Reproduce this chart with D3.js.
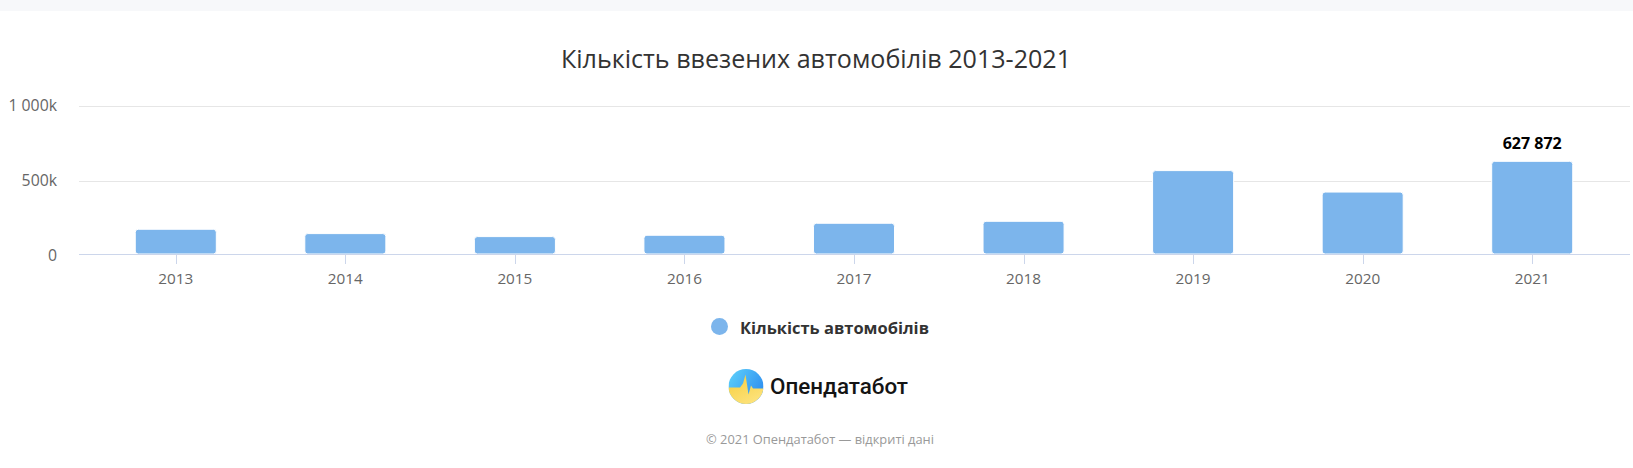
<!DOCTYPE html>
<html>
<head>
<meta charset="utf-8">
<script src="https://cdn.jsdelivr.net/npm/d3@7"></script>
<style>
  html, body { margin: 0; padding: 0; background: #fff; }
  svg { display: block; font-family: "Open Sans", "Noto Sans", sans-serif; }
</style>
</head>
<body>
<svg id="chart" width="1633" height="468"></svg>
<script>
// ---- data ----
const years = ["2013", "2014", "2015", "2016", "2017", "2018", "2019", "2020", "2021"];
const cars = [175000, 146000, 126000, 135000, 215000, 228000, 566000, 423000, 627872];
const yTicks = [0, 500000, 1000000];
const yTickLabels = ["0", "500k", "1 000k"];
const labelledYear = "2021";
const titleText = "Кількість ввезених автомобілів 2013-2021";
const seriesName = "Кількість автомобілів";
const logoText = "Опендатабот";
const footerText = "© 2021 Опендатабот — відкриті дані";

// ---- layout ----
const W = 1633, H = 468;
const svg = d3.select("#chart");
const barColor = "#7cb5ec";

function fitText(sel, target) {
  const node = sel.node();
  let fs = parseFloat(sel.attr("font-size"));
  for (let i = 0; i < 4; i++) {
    const w = node.getComputedTextLength();
    if (!w) break;
    fs = fs * target / w;
    sel.attr("font-size", fs.toFixed(2));
  }
}

// top band
svg.append("rect").attr("x", 0).attr("y", 0).attr("width", W).attr("height", 11).attr("fill", "#f7f8fa");

// title
const title = svg.append("text")
  .attr("x", 816).attr("y", 68)
  .attr("text-anchor", "middle")
  .attr("font-size", 24)
  .attr("fill", "#333333")
  .text(titleText);
fitText(title, 510);

// scales
const x = d3.scalePoint().domain(years).range([91, 1617]).padding(0.5);
const barW = x.step() * 0.478;
const y = d3.scaleLinear().domain([0, 1000000]).range([255.5, 105.5]);
const gridX0 = 79, gridX1 = 1630;

// gridlines
svg.append("g").selectAll("line")
  .data(yTicks.filter(t => t > 0))
  .join("line")
  .attr("x1", gridX0).attr("x2", gridX1)
  .attr("y1", d => Math.round(y(d)) + 0.5).attr("y2", d => Math.round(y(d)) + 0.5)
  .attr("stroke", "#e6e6e6").attr("stroke-width", 1);

// y labels
svg.append("g").selectAll("text")
  .data(yTicks)
  .join("text")
  .attr("x", 57)
  .attr("y", d => y(d) + 5)
  .attr("text-anchor", "end")
  .attr("font-size", 15.8)
  .attr("fill", "#666666")
  .text((d, i) => yTickLabels[i]);

// bars
svg.append("g").selectAll("rect")
  .data(years.map((yr, i) => ({ yr, v: cars[i] })))
  .join("rect")
  .attr("x", d => x(d.yr) - barW / 2)
  .attr("y", d => y(d.v))
  .attr("width", barW)
  .attr("height", d => 254 - y(d.v))
  .attr("rx", 3).attr("ry", 3)
  .attr("fill", barColor)
  .attr("stroke", "#ffffff").attr("stroke-width", 1);

// x axis line
svg.append("line")
  .attr("x1", gridX0).attr("x2", gridX1)
  .attr("y1", 254.5).attr("y2", 254.5)
  .attr("stroke", "#ccd6eb").attr("stroke-width", 1);

// x ticks and labels
const xg = svg.append("g");
xg.selectAll("line")
  .data(years)
  .join("line")
  .attr("x1", d => Math.round(x(d)) + 0.5).attr("x2", d => Math.round(x(d)) + 0.5)
  .attr("y1", 254.5).attr("y2", 264)
  .attr("stroke", "#ccd6eb").attr("stroke-width", 1);
xg.selectAll("text")
  .data(years)
  .join("text")
  .attr("x", d => x(d))
  .attr("y", 284)
  .attr("text-anchor", "middle")
  .attr("font-size", 15.3)
  .attr("fill", "#666666")
  .text(d => d);

// data label
const li = years.indexOf(labelledYear);
const fmt = v => d3.format(",")(v).replace(/,/g, " ");
svg.append("text")
  .attr("x", x(labelledYear))
  .attr("y", y(cars[li]) - 12)
  .attr("text-anchor", "middle")
  .attr("font-size", 16)
  .attr("font-weight", "bold")
  .attr("fill", "#000000")
  .attr("stroke", "#ffffff").attr("stroke-width", 2).attr("paint-order", "stroke")
  .attr("stroke-linejoin", "round")
  .text(fmt(cars[li]));

// legend
svg.append("circle").attr("cx", 719.5).attr("cy", 326.5).attr("r", 8.5).attr("fill", barColor);
const leg = svg.append("text")
  .attr("x", 740).attr("y", 333.5)
  .attr("font-size", 17)
  .attr("font-weight", "bold")
  .attr("fill", "#333333")
  .text(seriesName);
fitText(leg, 189);

// logo
const defs = svg.append("defs");
const gb = defs.append("linearGradient").attr("id", "gBlue").attr("x1", "0").attr("y1", "0").attr("x2", "1").attr("y2", "0.6");
gb.append("stop").attr("offset", "0").attr("stop-color", "#5fd3fb");
gb.append("stop").attr("offset", "1").attr("stop-color", "#2f8ff0");
const gy = defs.append("linearGradient").attr("id", "gYellow").attr("x1", "0").attr("y1", "0").attr("x2", "0.6").attr("y2", "1");
gy.append("stop").attr("offset", "0").attr("stop-color", "#f6cd3a");
gy.append("stop").attr("offset", "1").attr("stop-color", "#fde27a");
const cx = 746, cy = 386.5, r = 17.5;
defs.append("clipPath").attr("id", "logoClip")
  .append("circle").attr("cx", cx).attr("cy", cy).attr("r", r);
const lg = svg.append("g").attr("clip-path", "url(#logoClip)");
lg.append("rect").attr("x", cx - r).attr("y", cy - r).attr("width", 2 * r).attr("height", 2 * r).attr("fill", "url(#gBlue)");
const pulse = d3.path();
pulse.moveTo(cx - r, cy + 1);
pulse.lineTo(cx - 6, cy + 1);
pulse.lineTo(cx - 3, cy - 3);
pulse.lineTo(cx - 0.5, cy - 12);
pulse.lineTo(cx + 2.5, cy + 8);
pulse.lineTo(cx + 5, cy - 1);
pulse.lineTo(cx + 7, cy + 2);
pulse.lineTo(cx + r, cy + 2);
pulse.lineTo(cx + r, cy + r);
pulse.lineTo(cx - r, cy + r);
pulse.closePath();
lg.append("path").attr("d", pulse.toString()).attr("fill", "url(#gYellow)");
const lt = svg.append("text")
  .attr("x", 770).attr("y", 393.5)
  .attr("font-family", "Roboto, sans-serif")
  .attr("font-weight", 500)
  .attr("font-size", 22)
  .attr("fill", "#141414")
  .text(logoText);
fitText(lt, 138);

// footer
const ft = svg.append("text")
  .attr("x", 820).attr("y", 444)
  .attr("text-anchor", "middle")
  .attr("font-size", 13)
  .attr("fill", "#999999")
  .text(footerText);
fitText(ft, 228);
</script>
</body>
</html>
